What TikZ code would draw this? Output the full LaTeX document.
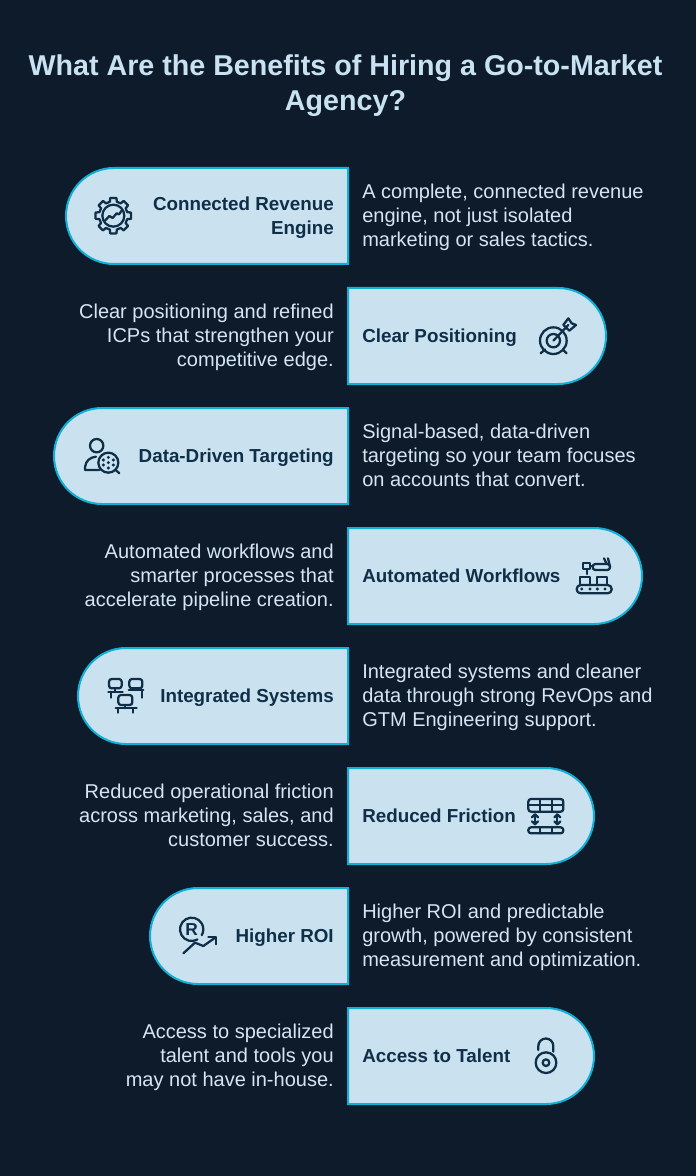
\documentclass[tikz,border=0pt]{standalone}
\usepackage{fontspec}
\setmainfont{Liberation Sans}
\definecolor{bgnavy}{HTML}{0D1B2A}
\definecolor{pillblue}{HTML}{CAE1EF}
\definecolor{edgeblue}{HTML}{0FB0D6}
\definecolor{inkblue}{HTML}{0F2E47}
\definecolor{notegrey}{HTML}{D5E6F1}
\definecolor{titleblue}{HTML}{C9E2F2}
\tikzset{
  pill/.style={fill=pillblue,draw=edgeblue,line width=1.5pt},
  title/.style={text=titleblue,align=center,font=\bfseries\fontsize{21.5}{26.4}\selectfont,inner sep=0pt},
  label/.style={text=inkblue,inner sep=0pt,align=right,yshift=-1pt,execute at begin node=\strut,execute at end node=\strut,font=\bfseries\fontsize{14.1}{18}\selectfont},
  note/.style={text=notegrey,inner sep=0pt,yshift=-2.2pt,execute at begin node=\strut,execute at end node=\strut,font=\fontsize{15}{18}\selectfont},
  ico/.style={x=.25pt,y=-.25pt,draw=inkblue,line width=1.7pt,line cap=round,line join=round},
}
\begin{document}
\begin{tikzpicture}[x=.75pt,y=-.75pt]
\useasboundingbox[fill=bgnavy](0,0) rectangle (696,1176);
\node[title] (heading) at (345.5,85.5) {What Are the Benefits of Hiring a Go-to-Market\\Agency?};

\draw[pill](348,168)--(114,168) arc (-90:-270:48)--(348,264)--cycle;
\draw[pill](348,288)--(558,288) arc (-90:90:48)--(348,384)--cycle;
\draw[pill](348,408)--(102,408) arc (-90:-270:48)--(348,504)--cycle;
\draw[pill](348,528)--(594,528) arc (-90:90:48)--(348,624)--cycle;
\draw[pill](348,648)--(126,648) arc (-90:-270:48)--(348,744)--cycle;
\draw[pill](348,768)--(546,768) arc (-90:90:48)--(348,864)--cycle;
\draw[pill](348,888)--(198,888) arc (-90:-270:48)--(348,984)--cycle;
\draw[pill](348,1008)--(546,1008) arc (-90:90:48)--(348,1104)--cycle;

\node[label,anchor=east] (engine) at (334,218) {Connected Revenue\\Engine};
\node[label,anchor=west] (positioning) at (362,336) {Clear Positioning};
\node[label,anchor=east] (targeting) at (334,456) {Data-Driven Targeting};
\node[label,anchor=west] (workflows) at (362,576) {Automated Workflows};
\node[label,anchor=east] (systems) at (334,696) {Integrated Systems};
\node[label,anchor=west] (friction) at (362,816) {Reduced Friction};
\node[label,anchor=east] (roi) at (334,936) {Higher ROI};
\node[label,anchor=west] (talent) at (362,1056) {Access to Talent};

\node[note,anchor=west,align=left] (engine note) at (362,216) {A complete, connected revenue\\engine, not just isolated\\marketing or sales tactics.};
\node[note,anchor=east,align=right] (positioning note) at (334,336) {Clear positioning and refined\\ICPs that strengthen your\\competitive edge.};
\node[note,anchor=west,align=left] (targeting note) at (362,456) {Signal-based, data-driven\\targeting so your team focuses\\on accounts that convert.};
\node[note,anchor=east,align=right] (workflows note) at (334,576) {Automated workflows and\\smarter processes that\\accelerate pipeline creation.};
\node[note,anchor=west,align=left] (systems note) at (362,696) {Integrated systems and cleaner\\data through strong RevOps and\\GTM Engineering support.};
\node[note,anchor=east,align=right] (friction note) at (334,816) {Reduced operational friction\\across marketing, sales, and\\customer success.};
\node[note,anchor=west,align=left] (roi note) at (362,936) {Higher ROI and predictable\\growth, powered by consistent\\measurement and optimization.};
\node[note,anchor=east,align=right] (talent note) at (334,1056) {Access to specialized\\talent and tools you\\may not have in-house.};

% gear
\begin{scope}[shift={(50,160)},ico]
\draw[shift={(190,167)}] \foreach \a in {0,45,...,315}{(\a-10:54)--(\a+10:54)--(\a+14:43)--(\a+31:43)--(\a+35:54)};
\draw(190,167) circle (33);
\draw(165,182)--(178,168)--(188,174)--(200,160)--(207,163)--(215,152);
\end{scope}
% target
\begin{scope}[shift={(500,280)},ico]
\draw(160,182) circle (40);
\draw(160,182) circle (20);
\draw(160,182)--(205,135);
\draw(190,135)--(205,115)--(215,130)--(228,135)--(208,152)--cycle;
\draw(122,220)--(135,208);
\draw(200,220)--(188,208);
\end{scope}
% person
\begin{scope}[shift={(50,410)},ico]
\draw(140,107) circle (20);
\draw(148,180)--(105,180)--(105,172) .. controls (107,152) and (120,142) .. (138,140);
\draw(175,158) circle (30);
\draw(197,180)--(208,190);
\fill[inkblue](175,142) circle (5) (160,150) circle (5) (190,150) circle (5) (175,158) circle (5) (160,165) circle (5) (190,165) circle (5) (175,174) circle (5);
\end{scope}
% robot
\begin{scope}[shift={(540,530)},ico]
\draw[rounded corners=3pt](110,165) rectangle (215,190);
\fill[inkblue](125,177) circle (5) (150,177) circle (5) (172,177) circle (5) (195,177) circle (5);
\draw(120,165)--(120,140)--(150,140)--(150,165);
\draw(170,165)--(170,140)--(200,140)--(200,165);
\draw(130,100) rectangle (150,118);
\draw(140,118)--(140,132);
\draw(150,108)--(160,108);
\draw[rounded corners=2pt](158,102) rectangle (210,120);
\draw(200,102)--(192,85);
\draw(210,110)--(204,85);
\end{scope}
% systems
\begin{scope}[shift={(80,650)},ico]
\draw[rounded corners=2pt](87,87) rectangle (125,115);
\draw[rounded corners=2pt](148,87) rectangle (187,115);
\draw[rounded corners=2pt](115,135) rectangle (157,165);
\draw(85,125)--(128,125);
\draw(146,120)--(190,120);
\draw(107,175)--(170,175);
\draw(93,125)--(93,143);
\draw(185,120)--(185,143);
\draw(105,115)--(105,125);
\draw(167,115)--(167,120);
\draw(136,165)--(136,175);
\draw(115,175)--(115,188);
\draw(160,175)--(160,188);
\end{scope}
% friction
\begin{scope}[shift={(500,770)},ico]
\draw[rounded corners=2pt](85,87) rectangle (190,125);
\draw(85,105)--(190,105);
\draw(120,87)--(120,125);
\draw(155,87)--(155,125);
\draw[rounded corners=2pt](85,172) rectangle (190,190);
\draw(120,172)--(120,190);
\draw(155,172)--(155,190);
\draw(105,133)--(105,163);
\draw(172,133)--(172,163);
\draw(96,142)--(105,133)--(114,142);
\draw(96,154)--(105,163)--(114,154);
\draw(163,142)--(172,133)--(181,142);
\draw(163,154)--(172,163)--(181,154);
\end{scope}
% roi
\begin{scope}[shift={(150,890)},ico]
\draw(125,118)++(60:35) arc (60:390:35);
\node[text=inkblue,inner sep=0pt,font=\bfseries\fontsize{13}{13}\selectfont] (roi letter) at (125,118) {R};
\draw(100,190)--(135,158)--(160,168)--(197,142);
\draw(175,142)--(197,142)--(197,163);
\end{scope}
% lock
\begin{scope}[shift={(500,1010)},ico]
\draw(138,158) circle (31);
\draw(138,158) circle (10);
\draw(115,120)--(115,108) arc (-180:0:22.5)--(160,125);
\end{scope}
\end{tikzpicture}
\end{document}
